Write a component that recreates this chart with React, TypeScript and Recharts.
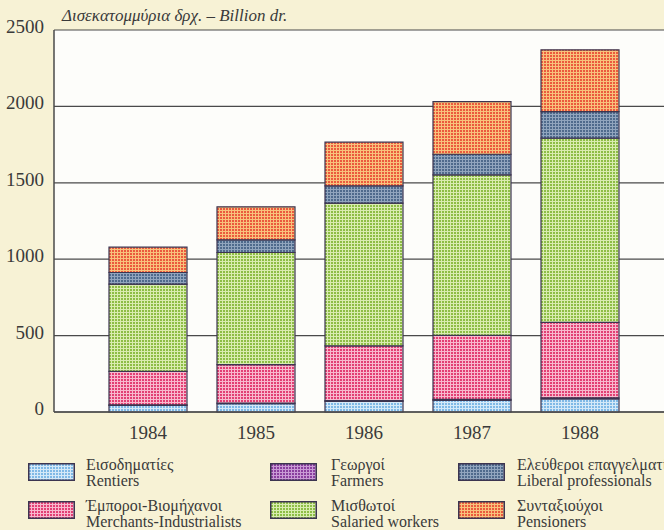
import React from "react";
import { BarChart, Bar, XAxis, YAxis, CartesianGrid } from "recharts";

// values in billion drachmas
const years = ["1984", "1985", "1986", "1987", "1988"];
const rentiers = [43, 54, 69, 76, 85];
const farmers = [4, 5, 6, 7, 8];
const merchants = [219, 251, 358, 418, 493];
const salaried = [571, 734, 934, 1051, 1206];
const liberal = [76, 83, 113, 135, 174];
const pensioners = [166, 216, 286, 344, 404];
const yTicks = [0, 500, 1000, 1500, 2000, 2500];

const series = [
   { key: "rentiers", values: rentiers, gr: "Εισοδηματίες", en: "Rentiers", color: "#7fb9e6", light: "#d4e9f8" },
   { key: "farmers", values: farmers, gr: "Γεωργοί", en: "Farmers", color: "#8a3f9e", light: "#c99bd5" },
   { key: "merchants", values: merchants, gr: "Έμποροι-Βιομήχανοι", en: "Merchants-Industrialists", color: "#e23f74", light: "#f8b8cd" },
   { key: "salaried", values: salaried, gr: "Μισθωτοί", en: "Salaried workers", color: "#8dbd45", light: "#d9ecb0" },
   { key: "liberal", values: liberal, gr: "Ελεύθεροι επαγγελματίες", en: "Liberal professionals", color: "#4f6a8c", light: "#91a5be" },
   { key: "pensioners", values: pensioners, gr: "Συνταξιούχοι", en: "Pensioners", color: "#eb5a3e", light: "#f8c27c" },
];

const data = years.map(function (year, i) {
   const row: Record<string, string | number> = { year };
   series.forEach(function (s) {
      row[s.key] = s.values[i];
   });
   return row;
});

// legend placement: [series key, swatch x, swatch y, text x, text y]
const legendSlots: [string, number, number, number, number][] = [
   ["rentiers", 28, 463, 86, 457],
   ["farmers", 270, 463, 331, 457],
   ["liberal", 458, 463, 517, 457],
   ["merchants", 28, 501, 86, 498],
   ["salaried", 270, 501, 331, 498],
   ["pensioners", 458, 501, 517, 498],
];

const font = "'Liberation Serif', 'DejaVu Serif', serif";
const ink = "#3a3a3a";
const lineCol = "#4a4a4a";

const YTick = function (props: any) {
   const { x, y, payload } = props;
   return (
      <text x={x} y={y} dy={3} textAnchor="end" fontFamily={font} fontSize={19} fill={ink}>
         {payload.value}
      </text>
   );
};

const XTick = function (props: any) {
   const { x, y, payload } = props;
   return (
      <text x={x} y={y} dy={25} textAnchor="middle" fontFamily={font} fontSize={19} fill={ink}>
         {payload.value}
      </text>
   );
};

export default function App() {
   return (
      <div
         style={{
            position: "absolute",
            left: 0,
            top: 0,
            width: 664,
            height: 530,
            overflow: "hidden",
            background: "#f7f2d5",
            fontFamily: font,
            color: ink,
         }}
      >
         <div
            style={{
               position: "absolute",
               left: 62,
               top: 6,
               fontSize: 17,
               fontStyle: "italic",
               whiteSpace: "nowrap",
            }}
         >
            Δισεκατομμύρια δρχ. – Billion dr.
         </div>
         <BarChart
            width={664}
            height={450}
            data={data}
            margin={{ top: 30, right: 0, left: 0, bottom: 0 }}
            barSize={78}
         >
            <defs>
               {series.map(function (s) {
                  return (
                     <pattern
                        key={s.key}
                        id={"pat-" + s.key}
                        width={3}
                        height={3}
                        patternUnits="userSpaceOnUse"
                     >
                        <rect width={3} height={3} fill={s.color} />
                        <path d="M0 0.5H3M0.5 0V3" stroke={s.light} strokeWidth={1} />
                     </pattern>
                  );
               })}
            </defs>
            <CartesianGrid
               vertical={false}
               stroke={lineCol}
               strokeWidth={1.2}
               fill="#fdfdfa"
               fillOpacity={1}
            />
            <XAxis
               dataKey="year"
               height={38}
               tickLine={false}
               tickSize={0}
               axisLine={{ stroke: lineCol, strokeWidth: 1.5 }}
               padding={{ left: 40, right: 30 }}
               tick={<XTick />}
            />
            <YAxis
               width={54}
               domain={[0, 2500]}
               ticks={yTicks}
               tickLine={false}
               tickSize={0}
               tickMargin={10}
               axisLine={{ stroke: lineCol, strokeWidth: 1.5 }}
               tick={<YTick />}
            />
            {series.map(function (s) {
               return (
                  <Bar
                     key={s.key}
                     dataKey={s.key}
                     stackId="a"
                     fill={"url(#pat-" + s.key + ")"}
                     stroke="#3c3550"
                     strokeWidth={1.2}
                     isAnimationActive={false}
                  />
               );
            })}
         </BarChart>
         {legendSlots.map(function ([key, sx, sy, tx, ty]) {
            const s = series.find(function (q) {
               return q.key === key;
            })!;
            return (
               <React.Fragment key={key}>
                  <svg
                     width={47}
                     height={18}
                     style={{ position: "absolute", left: sx, top: sy }}
                  >
                     <rect
                        x={0.75}
                        y={0.75}
                        width={45.5}
                        height={16.5}
                        fill={"url(#pat-" + key + ")"}
                        stroke="#3c3550"
                        strokeWidth={1.5}
                     />
                  </svg>
                  <div
                     style={{
                        position: "absolute",
                        left: tx,
                        top: ty,
                        fontSize: 16,
                        lineHeight: "16px",
                        whiteSpace: "nowrap",
                     }}
                  >
                     <div>{s.gr}</div>
                     <div>{s.en}</div>
                  </div>
               </React.Fragment>
            );
         })}
      </div>
   );
}
